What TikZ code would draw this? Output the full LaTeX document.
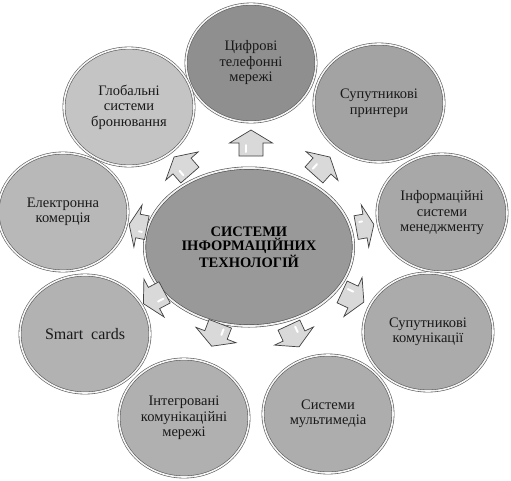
\documentclass[tikz,border=0pt]{standalone}
\usepackage{fontspec}
\setmainfont{Liberation Serif}
\usetikzlibrary{shapes.geometric}
\tikzset{
  circ/.style={ellipse, minimum width=130pt, minimum height=118pt, inner sep=0pt,
    draw=black!65, line width=0.6pt, double=white!92!gray, double distance=1.6pt,
    align=center, font=\fontsize{14.5pt}{15.5pt}\selectfont, text=black!90},
  hub/.style={ellipse, minimum width=209pt, minimum height=158pt, inner sep=0pt,
    draw=black!70, line width=0.6pt, double=white!90!gray, double distance=1.8pt,
    fill=black!40, align=center, font=\bfseries\fontsize{14.5pt}{14.5pt}\selectfont},
  arrsty/.style={draw=black!75, line width=0.7pt, fill=black!15, line join=miter},
  hilite/.style={draw=white, line width=2pt, line cap=round},
  pics/blockarr/.style={code={
    \coordinate (-center) at (0,0);
    \draw[arrsty] (-#1/2,-12) -- (0,-12) -- (0,-21.5) -- (#1/2,0) -- (0,21.5) -- (0,12) -- (-#1/2,12) -- cycle;
    \draw[hilite] (-#1/2+4,-5) -- (-2,-5);
  }}
}
\begin{document}
\begin{tikzpicture}[x=1pt,y=-1pt]
\useasboundingbox (0,0) rectangle (511,480);
\node[hub] (c) at (249,247) {СИСТЕМИ\\ІНФОРМАЦІЙНИХ\\ТЕХНОЛОГІЙ};
\node[circ, fill=black!44] (n1) at (251,63) {Цифрові\\телефонні\\мережі};
\node[circ, fill=black!36] (n2) at (379,103) {Супутникові\\принтери};
\node[circ, fill=black!34] (n3) at (442,213) {Інформаційні\\системи\\менеджменту};
\node[circ, fill=black!33] (n4) at (428,332) {Супутникові\\комунікації};
\node[circ, fill=black!32] (n5) at (328,414) {Системи\\мультимедіа};
\node[circ, fill=black!31] (n6) at (184,418) {Інтегровані\\комунікаційні\\мережі};
\node[circ, fill=black!30, font=\fontsize{16pt}{18pt}\selectfont] (n7) at (85,334) {Smart\ \ cards};
\node[circ, fill=black!28] (n8) at (63,212) {Електронна\\комерція};
\node[circ, fill=black!23] (n9) at (129,107) {Глобальні\\системи\\бронювання};
\pic[rotate=90] (a1) at (251,143) {blockarr=26};
\pic[rotate=48] (a2) at (322,166) {blockarr=24};
\pic[rotate=10] (a3) at (365,226) {blockarr=18};
\pic[rotate=-25] (a4) at (353,297) {blockarr=24};
\pic[rotate=-65] (a5) at (294,336) {blockarr=24};
\pic[rotate=-111] (a6) at (216,335) {blockarr=24};
\pic[rotate=-152] (a7) at (154,298) {blockarr=24};
\pic[rotate=169] (a8) at (138,226) {blockarr=18};
\pic[rotate=131] (a9) at (182,166) {blockarr=24};
\end{tikzpicture}
\end{document}
